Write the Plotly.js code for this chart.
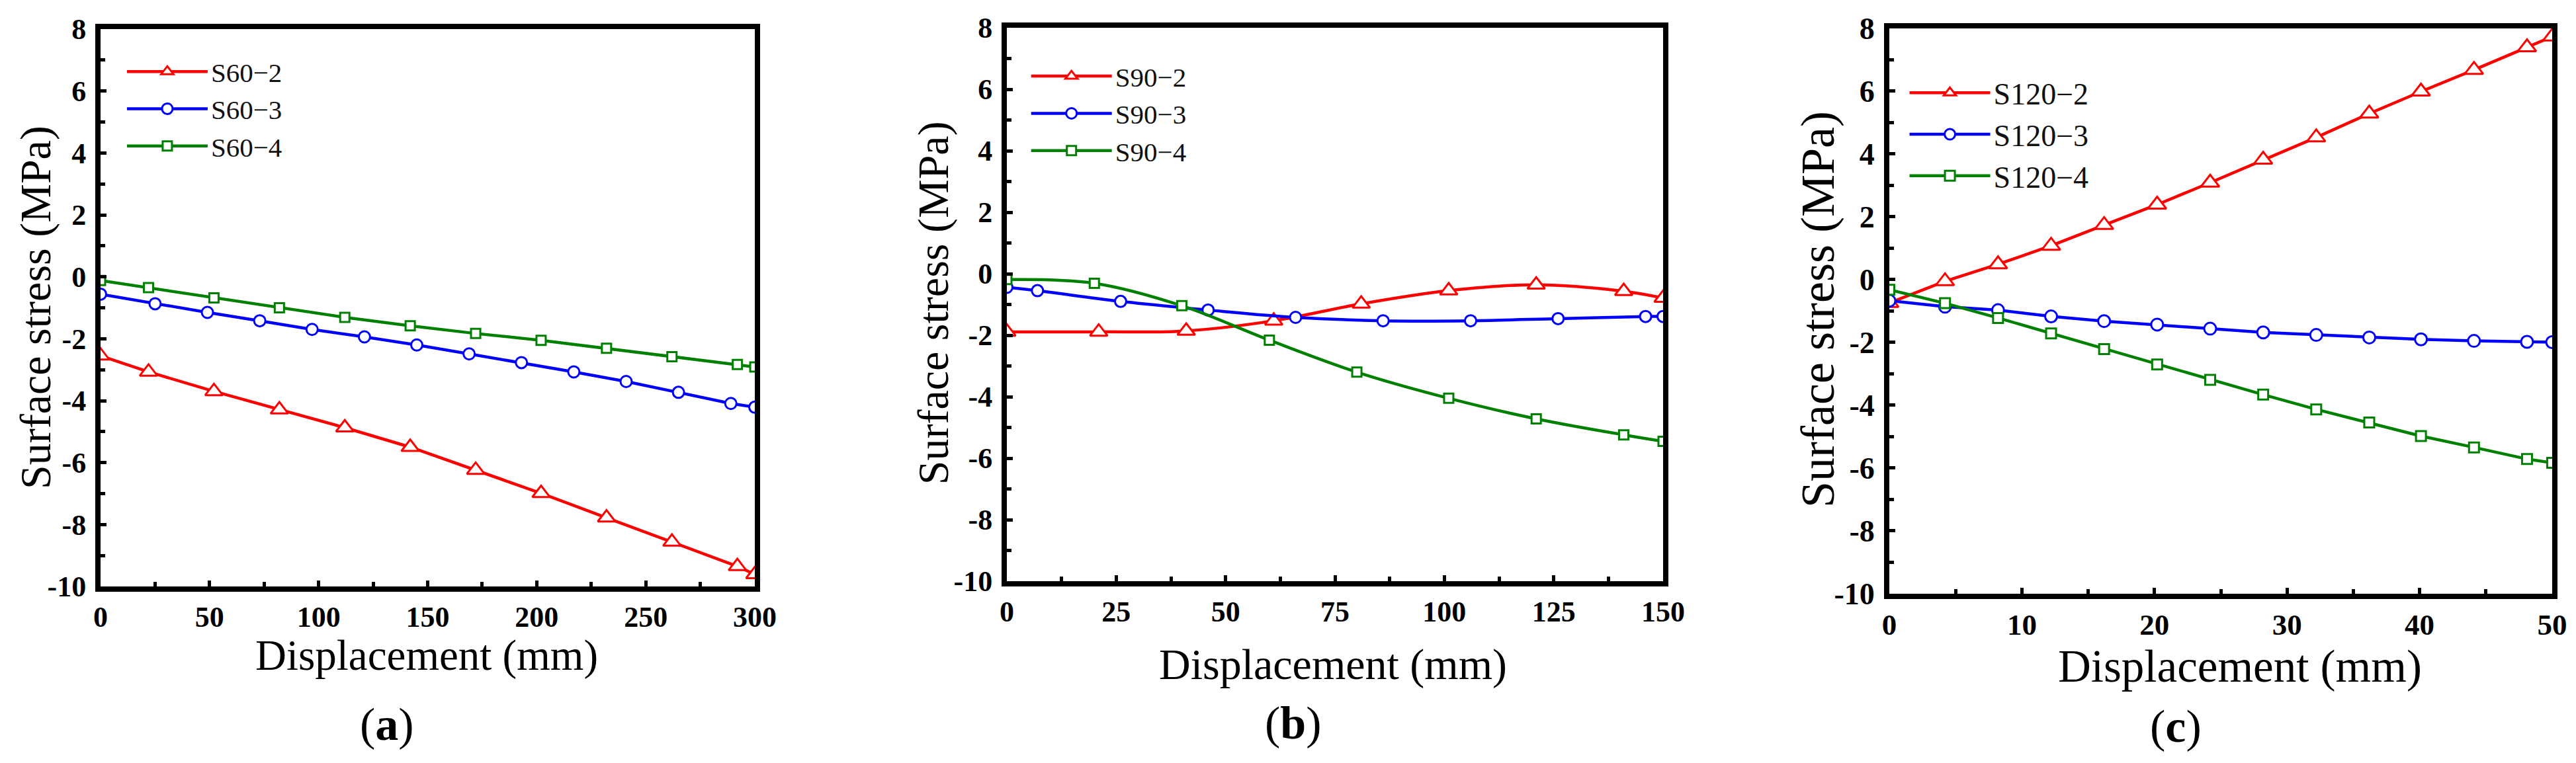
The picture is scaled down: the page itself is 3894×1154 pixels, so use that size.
<!DOCTYPE html>
<html>
<head>
<meta charset="utf-8">
<script src="https://cdn.plot.ly/plotly-3.0.1.min.js"></script>
<style>
  html, body { margin: 0; padding: 0; background: #fff; }
  #chart { width: 3894px; height: 1154px; }
</style>
</head>
<body>
<div id="chart"></div>
<script>
// panel (a) S60
const a2x = [0, 22, 52, 82, 112, 142, 172, 202, 232, 262, 292, 300];
const a2y = [-2.55, -3.07, -3.70, -4.29, -4.87, -5.50, -6.24, -6.99, -7.78, -8.56, -9.35, -9.61];
const a3x = [0, 25, 49, 73, 97, 121, 145, 169, 193, 217, 241, 265, 289, 300];
const a3y = [-0.56, -0.87, -1.15, -1.42, -1.70, -1.94, -2.20, -2.49, -2.77, -3.07, -3.38, -3.73, -4.09, -4.21];
const a4x = [0, 22, 52, 82, 112, 142, 172, 202, 232, 262, 292, 300];
const a4y = [-0.12, -0.35, -0.68, -1.00, -1.31, -1.58, -1.83, -2.05, -2.31, -2.58, -2.83, -2.91];

// panel (b) S90
const b2x = [0, 21, 41, 61, 81, 101, 121, 141, 150];
const b2y = [-1.89, -1.89, -1.86, -1.53, -0.98, -0.55, -0.36, -0.57, -0.79];
const b3x = [0, 7, 26, 46, 66, 86, 106, 126, 146, 150];
const b3y = [-0.44, -0.55, -0.90, -1.18, -1.42, -1.53, -1.53, -1.46, -1.39, -1.39];
const b4x = [0, 20, 40, 60, 80, 101, 121, 141, 150];
const b4y = [-0.19, -0.31, -1.04, -2.16, -3.20, -4.05, -4.72, -5.24, -5.45];

// panel (c) S120
const cx = [0, 4.2, 8.2, 12.2, 16.2, 20.2, 24.2, 28.2, 32.2, 36.2, 40.1, 44.1, 48.1, 50];
const c2y = [-0.74, -0.05, 0.49, 1.08, 1.74, 2.39, 3.09, 3.82, 4.53, 5.29, 5.99, 6.68, 7.40, 7.74];
const c3y = [-0.67, -0.86, -0.97, -1.17, -1.32, -1.43, -1.56, -1.68, -1.76, -1.84, -1.90, -1.95, -1.98, -1.99];
const c4y = [-0.32, -0.75, -1.22, -1.71, -2.21, -2.70, -3.19, -3.66, -4.13, -4.55, -4.98, -5.34, -5.71, -5.83];

const yTickVals = [-10, -8, -6, -4, -2, 0, 2, 4, 6, 8];
const yTickText = ["-10", "-8", "-6", "-4", "-2", "0", "2", "4", "6", "8"];
const aTickVals = [0, 50, 100, 150, 200, 250, 300];
const bTickVals = [0, 25, 50, 75, 100, 125, 150];
const cTickVals = [0, 10, 20, 30, 40, 50];

const xTitle = "Displacement (mm)";
const yTitle = "Surface stress (MPa)";

const RED = "#ff0000", BLUE = "#0000ff", GREEN = "#008000";
const SERIF = "Liberation Serif, Times New Roman, serif";

function series(x, y, name, color, symbol, size, axis, legend, shape) {
  return {
    x: x, y: y, name: name, type: "scatter", mode: "lines+markers",
    xaxis: "x" + axis, yaxis: "y" + axis, legend: legend,
    line: { color: color, width: 4.5, shape: shape || "linear" },
    marker: { symbol: symbol, size: size, color: "white",
              line: { color: color, width: 3 } }
  };
}

var data = [
  series(a2x, a2y, "S60\u22122", RED, "triangle-up", 23, "", "legend"),
  series(a3x, a3y, "S60\u22123", BLUE, "circle", 17, "", "legend"),
  series(a4x, a4y, "S60\u22124", GREEN, "square", 14, "", "legend"),
  series(b2x, b2y, "S90\u22122", RED, "triangle-up", 23, "2", "legend2", "spline"),
  series(b3x, b3y, "S90\u22123", BLUE, "circle", 17, "2", "legend2", "spline"),
  series(b4x, b4y, "S90\u22124", GREEN, "square", 14, "2", "legend2", "spline"),
  series(cx, c2y, "S120\u22122", RED, "triangle-up", 24, "3", "legend3"),
  series(cx, c3y, "S120\u22123", BLUE, "circle", 18, "3", "legend3"),
  series(cx, c4y, "S120\u22124", GREEN, "square", 15, "3", "legend3")
];

function xAxis(dom, anchor, range, vals, minorStep, fs) {
  return {
    domain: dom, anchor: anchor, range: range, fixedrange: true,
    tickmode: "array", tickvals: vals, ticktext: vals.map(String),
    ticks: "inside", ticklen: 9, tickwidth: 5, tickcolor: "black",
    minor: { tickmode: "linear", tick0: 0, dtick: minorStep, ticks: "inside",
             ticklen: 7, tickwidth: 5, tickcolor: "black" },
    showline: true, linewidth: 8, linecolor: "black", mirror: true,
    showgrid: false, zeroline: false, automargin: false,
    ticklabelstandoff: 0,
    tickfont: { family: SERIF, size: fs, color: "black", weight: "bold" }
  };
}

function yAxis(dom, anchor, fs) {
  return {
    domain: dom, anchor: anchor, range: [-10, 8], fixedrange: true,
    tickmode: "array", tickvals: yTickVals, ticktext: yTickText,
    ticks: "inside", ticklen: 9, tickwidth: 5, tickcolor: "black",
    minor: { tickmode: "linear", tick0: 0, dtick: 1, ticks: "inside",
             ticklen: 7, tickwidth: 5, tickcolor: "black" },
    showline: true, linewidth: 8, linecolor: "black", mirror: true,
    showgrid: false, zeroline: false, automargin: false,
    ticklabelstandoff: 5,
    tickfont: { family: SERIF, size: fs, color: "black", weight: "bold" }
  };
}

function legendBox(x, y, fs) {
  return {
    x: x, y: y, xanchor: "left", yanchor: "top", bgcolor: "rgba(0,0,0,0)",
    borderwidth: 0, itemwidth: 122, tracegroupgap: 0,
    font: { family: SERIF, size: fs, color: "#111" }
  };
}

function label(text, x, y, fs, angle) {
  return {
    text: text, xref: "paper", yref: "paper", x: x, y: y,
    xanchor: "center", yanchor: "middle", showarrow: false, textangle: angle || 0,
    font: { family: SERIF, size: fs, color: "black" }
  };
}

var layout = {
  width: 3894, height: 1154,
  margin: { l: 0, r: 0, t: 0, b: 0 },
  paper_bgcolor: "white", plot_bgcolor: "white",
  showlegend: true,
  xaxis: xAxis([0.03903, 0.29302], "y", [0, 300], aTickVals, 25, 44),
  yaxis: yAxis([0.23137, 0.96187], "x", 44),
  xaxis2: xAxis([0.39086, 0.64561], "y2", [0, 150], bTickVals, 12.5, 44),
  yaxis2: yAxis([0.23830, 0.96360], "x2", 44),
  xaxis3: xAxis([0.73344, 0.99076], "y3", [0, 50], cTickVals, 5, 45),
  yaxis3: yAxis([0.22184, 0.96274], "x3", 46),
  legend: legendBox(0.048, 0.935, 41),
  legend2: legendBox(0.399, 0.929, 41),
  legend3: legendBox(0.740, 0.910, 46),
  annotations: [
    label(xTitle, 0.1656, 0.1410, 65),
    label(xTitle, 0.5175, 0.1291, 66),
    label(xTitle, 0.8695, 0.1265, 69),
    label(yTitle, 0.01387, 0.5971, 66, -90),
    label(yTitle, 0.3624, 0.6031, 66, -90),
    label(yTitle, 0.7057, 0.5945, 72, -90),
    label("(<b>a</b>)", 0.1502, 0.0503, 70),
    label("(<b>b</b>)", 0.5021, 0.0520, 70),
    label("(<b>c</b>)", 0.8446, 0.0477, 70)
  ]
};

Plotly.newPlot("chart", data, layout, { staticPlot: true, displayModeBar: false });
</script>
</body>
</html>
